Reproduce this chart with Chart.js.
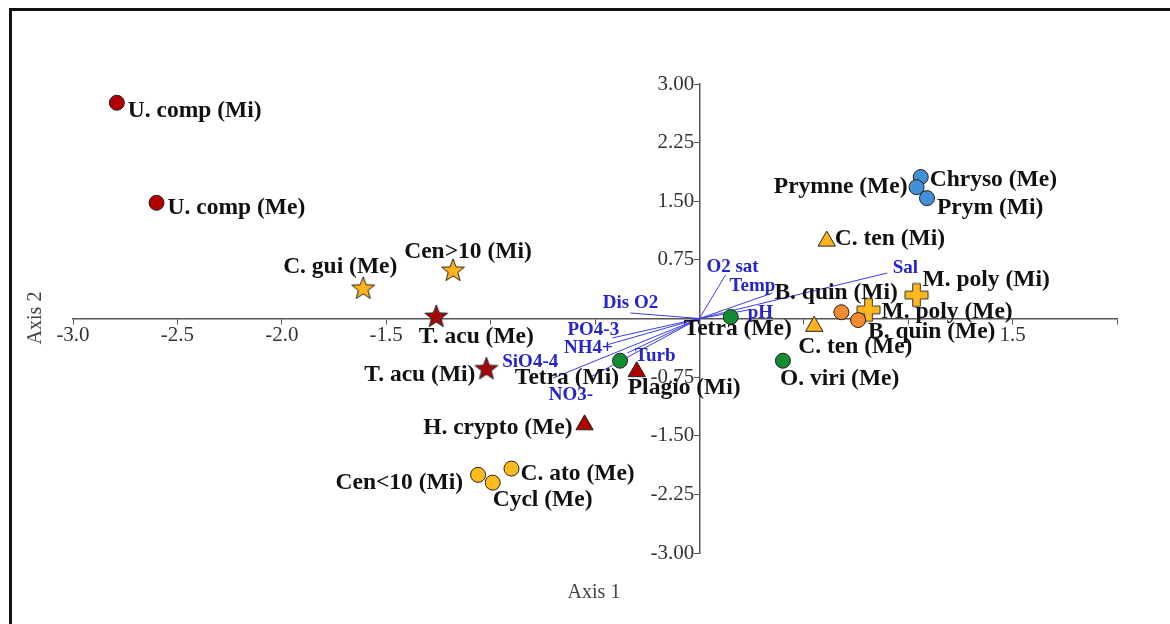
<!DOCTYPE html>
<html>
<head>
<meta charset="utf-8">
<script src="https://cdn.jsdelivr.net/npm/chart.js@4.4.0/dist/chart.umd.min.js"></script>
<style>
  body { margin: 0; background: #fff; }
  #wrap { width: 1170px; height: 624px; position: relative; }
</style>
</head>
<body>
<div id="wrap"><canvas id="myChart"></canvas></div>
<script>
// taxa scores on axis 1 / axis 2
var taxa = ['U. comp (Mi)', 'U. comp (Me)', 'C. gui (Me)', 'Cen>10 (Mi)', 'T. acu (Me)', 'T. acu (Mi)',
  'Tetra (Mi)', 'Plagio (Mi)', 'H. crypto (Me)', 'Cen<10 (Mi)', 'Cycl (Me)', 'C. ato (Me)',
  'Tetra (Me)', 'O. viri (Me)', 'C. ten (Me)', 'C. ten (Mi)', 'B. quin (Mi)', 'B. quin (Me)',
  'M. poly (Me)', 'M. poly (Mi)', 'Chryso (Me)', 'Prymne (Me)', 'Prym (Mi)'];
var axis1 = [-2.79, -2.60, -1.61, -1.18, -1.26, -1.02, -0.38, -0.30, -0.55, -1.06, -0.99, -0.90,
  0.15, 0.40, 0.55, 0.61, 0.68, 0.76, 0.81, 1.04, 1.06, 1.04, 1.09];
var axis2 = [2.76, 1.48, 0.38, 0.61, 0.02, -0.65, -0.54, -0.68, -1.36, -2.00, -2.10, -1.92,
  0.02, -0.54, -0.10, 0.99, 0.08, -0.02, 0.11, 0.30, 1.81, 1.68, 1.54];
var taxaGroup = ['redCircle', 'redCircle', 'orangeStar', 'orangeStar', 'redStar', 'redStar',
  'greenCircle', 'redTriangle', 'redTriangle', 'goldCircle', 'goldCircle', 'goldCircle',
  'greenCircle', 'greenCircle', 'orangeTriangle', 'orangeTriangle', 'orangeCircle', 'orangeCircle',
  'goldPlus', 'goldPlus', 'blueCircle', 'blueCircle', 'blueCircle'];

// environmental variables (arrow tips)
var envNames = ['O2 sat', 'Temp', 'Sal', 'pH', 'Dis O2', 'PO4-3', 'NH4+', 'SiO4-4', 'NO3-', 'Turb'];
var envAxis1 = [0.125, 0.35, 0.90, 0.235, -0.33, -0.417, -0.445, -0.70, -0.52, -0.345];
var envAxis2 = [0.556, 0.326, 0.582, 0.109, 0.07, -0.249, -0.339, -0.761, -0.748, -0.441];

var xTickShown = [-3, -2.5, -2, -1.5, 1.5];

// label placement: align, dx, dy (pixels from the marker)
var taxaLabelPos = [['left', 11, 8], ['left', 11, 5], ['center', -23, -22], ['center', 15, -19],
  ['center', 40, 20], ['right', -11, 6], ['right', -1, 17], ['left', -9, 16], ['right', -12, 3],
  ['right', -15, 8], ['left', 0, 17], ['left', 9, 5], ['center', 7, 12], ['left', -3, 18],
  ['left', -16, 21], ['left', 8, -2], ['left', -67, -19], ['left', 10, 12], ['left', 13, 2],
  ['left', 6, -15], ['left', 9, 3], ['right', -9, 0], ['left', 10, 10]];
var envLabelPos = [[7, -8], [-20, -7], [18, -5], [12, 3], [0, -10], [-19, -8], [-18, 3], [-23, -16], [-20, 18], [28, 3]];

function makeStar(fill, r) {
  var c = document.createElement('canvas');
  c.width = c.height = r * 2 + 4;
  var g = c.getContext('2d');
  var cx = r + 2, cy = r + 2;
  g.beginPath();
  for (var i = 0; i < 10; i++) {
    var rad = i % 2 === 0 ? r : r * 0.42;
    var a = -Math.PI / 2 + i * Math.PI / 5;
    g.lineTo(cx + rad * Math.cos(a), cy + rad * Math.sin(a));
  }
  g.closePath();
  g.fillStyle = fill;
  g.fill();
  g.strokeStyle = '#222';
  g.lineWidth = 1;
  g.stroke();
  return c;
}

function makePlus(fill, s) {
  var c = document.createElement('canvas');
  c.width = c.height = s + 4;
  var g = c.getContext('2d');
  var o = 2, t = s / 3;
  g.beginPath();
  g.moveTo(o + t, o); g.lineTo(o + 2 * t, o); g.lineTo(o + 2 * t, o + t); g.lineTo(o + s, o + t);
  g.lineTo(o + s, o + 2 * t); g.lineTo(o + 2 * t, o + 2 * t); g.lineTo(o + 2 * t, o + s);
  g.lineTo(o + t, o + s); g.lineTo(o + t, o + 2 * t); g.lineTo(o, o + 2 * t); g.lineTo(o, o + t);
  g.lineTo(o + t, o + t);
  g.closePath();
  g.fillStyle = fill;
  g.fill();
  g.strokeStyle = '#333';
  g.lineWidth = 1;
  g.stroke();
  return c;
}

var groupStyle = {
  redCircle: { color: '#B20000', shape: 'circle', r: 7.5 },
  redStar: { color: '#A50808', shape: makeStar('#A50808', 12) },
  redTriangle: { color: '#B00000', shape: 'triangle', r: 10 },
  orangeStar: { color: '#FFB21A', shape: makeStar('#FFB21A', 12) },
  goldCircle: { color: '#FFBA1F', shape: 'circle', r: 7.5 },
  greenCircle: { color: '#138B35', shape: 'circle', r: 7.5 },
  orangeTriangle: { color: '#FFB31A', shape: 'triangle', r: 10 },
  orangeCircle: { color: '#F28A2E', shape: 'circle', r: 7.5 },
  goldPlus: { color: '#FFB81C', shape: makePlus('#FFB81C', 23) },
  blueCircle: { color: '#4190D8', shape: 'circle', r: 7.5 }
};

var datasets = [];

// vectors first so markers sit on top
envNames.forEach(function (n, i) {
  datasets.push({
    type: 'scatter',
    label: n,
    envLabel: n,
    envPos: envLabelPos[i],
    data: [{ x: 0, y: 0 }, { x: envAxis1[i], y: envAxis2[i] }],
    showLine: true,
    borderColor: '#3c3cf0',
    borderWidth: 1,
    pointRadius: 0,
    order: 2
  });
});

Object.keys(groupStyle).forEach(function (gname) {
  var st = groupStyle[gname];
  var pts = [], names = [], pos = [];
  taxa.forEach(function (t, i) {
    if (taxaGroup[i] === gname) {
      pts.push({ x: axis1[i], y: axis2[i] });
      names.push(t);
      pos.push(taxaLabelPos[i]);
    }
  });
  datasets.push({
    type: 'scatter',
    label: gname,
    names: names,
    labelPos: pos,
    data: pts,
    pointStyle: st.shape,
    pointRadius: st.r || 10,
    backgroundColor: st.color,
    borderColor: '#222',
    borderWidth: 1,
    order: 1
  });
});

var labelPlugin = {
  id: 'pointLabels',
  afterDatasetsDraw: function (chart) {
    var ctx = chart.ctx;
    ctx.save();
    ctx.textBaseline = 'middle';
    chart.data.datasets.forEach(function (ds, di) {
      var meta = chart.getDatasetMeta(di);
      if (ds.names) {
        ctx.font = 'bold 23.5px "Liberation Serif"';
        ctx.fillStyle = '#111';
        meta.data.forEach(function (pt, i) {
          var p = ds.labelPos[i];
          ctx.textAlign = p[0];
          ctx.fillText(ds.names[i], pt.x + p[1], pt.y + p[2]);
        });
      } else if (ds.envLabel) {
        var tip = meta.data[1];
        ctx.font = 'bold 19px "Liberation Serif"';
        ctx.fillStyle = '#2424d0';
        ctx.textAlign = 'center';
        ctx.fillText(ds.envLabel, tip.x + ds.envPos[0], tip.y + ds.envPos[1]);
      }
    });
    ctx.restore();
  }
};

var framePlugin = {
  id: 'frame',
  afterDraw: function (chart) {
    var ctx = chart.ctx;
    ctx.save();
    ctx.strokeStyle = '#111';
    ctx.lineWidth = 3;
    ctx.beginPath();
    ctx.moveTo(10.5, 630);
    ctx.lineTo(10.5, 9.5);
    ctx.lineTo(1180, 9.5);
    ctx.stroke();
    ctx.fillStyle = '#444';
    ctx.font = '20px "Liberation Serif"';
    ctx.textAlign = 'center';
    ctx.textBaseline = 'middle';
    ctx.fillText('Axis 1', 594, 593);
    ctx.translate(36, 318);
    ctx.rotate(-Math.PI / 2);
    ctx.fillText('Axis 2', 0, 0);
    ctx.restore();
  }
};

var ctx = document.getElementById('myChart');
var myChart = new Chart(ctx, {
  type: 'scatter',
  data: { datasets: datasets },
  options: {
    responsive: true,
    maintainAspectRatio: false,
    animation: false,
    layout: { padding: { left: 73, right: 53, top: 84, bottom: 71 } },
    plugins: { legend: { display: false }, tooltip: { enabled: false } },
    scales: {
      x: {
        type: 'linear',
        position: { y: 0 },
        min: -3, max: 2,
        grid: { drawOnChartArea: false, drawTicks: true, tickLength: 5, color: '#555' },
        border: { color: '#555', width: 1.5 },
        ticks: {
          stepSize: 0.5, autoSkip: false, maxRotation: 0,
          color: '#333', font: { family: 'Liberation Serif', size: 21 }, padding: -1,
          callback: function (v) { return xTickShown.indexOf(v) >= 0 ? v.toFixed(1) : ''; }
        }
      },
      y: {
        type: 'linear',
        position: { x: 0 },
        min: -3, max: 3,
        grid: { drawOnChartArea: false, drawTicks: true, tickLength: 5, color: '#555' },
        border: { color: '#555', width: 1.5 },
        ticks: {
          stepSize: 0.75, autoSkip: false,
          color: '#333', font: { family: 'Liberation Serif', size: 21 },
          // labels sit flush on the axis here, so a trailing space keeps them off the tick
          callback: function (v) { return v === 0 ? '' : v.toFixed(2) + ' '; }
        }
      }
    }
  },
  plugins: [labelPlugin, framePlugin]
});
</script>
</body>
</html>
